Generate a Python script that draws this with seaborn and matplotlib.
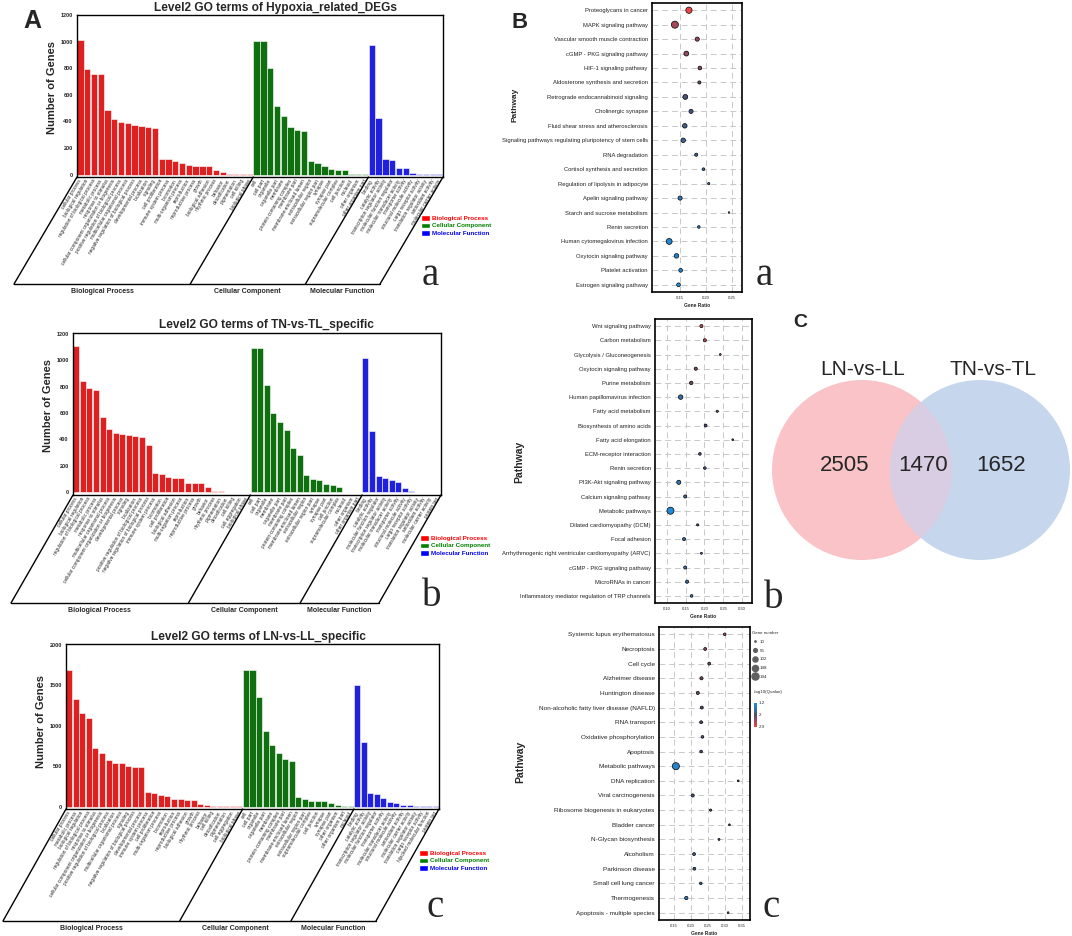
import numpy as np
import pandas as pd
import matplotlib
matplotlib.use("Agg")
import matplotlib.pyplot as plt
import seaborn as sns
from matplotlib.lines import Line2D
from matplotlib.patches import Patch, Circle
from matplotlib.colors import LinearSegmentedColormap, Normalize
from matplotlib.cm import ScalarMappable

# ---------------- GO level2 counts (panel A) ----------------
bp_a = ["cellular process", "biological regulation", "regulation of biological process", "metabolic process",
        "response to stimulus", "cellular component organization or biogenesis",
        "positive regulation of biological process", "multicellular organismal process",
        "negative regulation of biological process", "developmental process", "localization", "signaling",
        "cell proliferation", "immune system process", "locomotion", "multi-organism process", "reproduction",
        "reproductive process", "growth", "biological adhesion", "rhythmic process", "behavior",
        "detoxification", "pigmentation", "cell killing", "biological phase"]
bp_a_n = [1015, 795, 758, 758, 485, 417, 399, 389, 371, 364, 361, 354, 119, 114, 106, 88, 71, 68, 68, 63,
          35, 18, 6, 5, 4, 2]
cc_a = ["cell", "cell part", "organelle", "organelle part", "membrane", "protein-containing complex",
        "membrane part", "membrane-enclosed lumen", "extracellular region", "extracellular region part",
        "synapse", "synapse part", "supramolecular complex", "cell junction", "nucleoid", "other organism",
        "other organism part"]
cc_a_n = [1005, 1002, 803, 518, 442, 359, 333, 326, 106, 91, 63, 43, 35, 35, 3, 2, 1]
mf_a = ["binding", "catalytic activity", "transcription regulator activity", "molecular function regulator",
        "molecular transducer activity", "transporter activity", "structural molecule activity",
        "cargo receptor activity", "translation regulator activity", "antioxidant activity",
        "molecular carrier activity"]
mf_a_n = [972, 422, 119, 111, 51, 51, 13, 5, 3, 3, 1]

bp_b = ["cellular process", "biological regulation", "regulation of biological process", "metabolic process",
        "response to stimulus", "multicellular organismal process",
        "cellular component organization or biogenesis", "developmental process", "signaling", "localization",
        "positive regulation of biological process", "negative regulation of biological process",
        "immune system process", "locomotion", "cell proliferation", "biological adhesion",
        "multi-organism process", "reproduction", "reproductive process", "growth", "behavior",
        "rhythmic process", "pigmentation", "detoxification", "cell killing", "cell aggregation",
        "biological phase"]
bp_b_n = [1103, 839, 788, 771, 569, 481, 446, 441, 436, 426, 421, 355, 149, 136, 116, 106, 106, 68, 68, 68,
          40, 10, 8, 5, 5, 3, 2]
cc_b = ["cell", "cell part", "organelle", "membrane", "organelle part", "membrane part",
        "protein-containing complex", "membrane-enclosed lumen", "extracellular region",
        "extracellular region part", "synapse", "synapse part", "cell junction", "supramolecular complex",
        "nucleoid", "other organism", "other organism part"]
cc_b_n = [1091, 1088, 811, 597, 531, 474, 332, 285, 134, 103, 93, 60, 55, 43, 5, 3, 3]
mf_b = ["binding", "catalytic activity", "molecular function regulator", "transcription regulator activity",
        "molecular transducer activity", "transporter activity", "structural molecule activity",
        "cargo receptor activity", "translation regulator activity", "antioxidant activity",
        "molecular carrier activity", "protein tag"]
mf_b_n = [1015, 461, 123, 111, 96, 78, 30, 8, 5, 3, 3, 2]

bp_c = ["cellular process", "metabolic process", "biological regulation", "regulation of biological process",
        "response to stimulus", "cellular component organization or biogenesis",
        "positive regulation of biological process", "localization", "multicellular organismal process",
        "signaling", "negative regulation of biological process", "developmental process",
        "immune system process", "cell proliferation", "multi-organism process", "locomotion", "reproduction",
        "reproductive process", "biological adhesion", "growth", "rhythmic process", "behavior", "cell killing",
        "detoxification", "pigmentation", "cell aggregation", "biological phase"]
bp_c_n = [1689, 1329, 1151, 1089, 720, 667, 571, 542, 534, 497, 493, 493, 182, 166, 141, 128, 99, 99, 83, 83,
          37, 21, 12, 12, 8, 4, 3]
cc_c = ["cell", "cell part", "organelle", "organelle part", "membrane", "protein-containing complex",
        "membrane part", "membrane-enclosed lumen", "extracellular region", "extracellular region part",
        "supramolecular complex", "cell junction", "synapse", "synapse part", "other organism",
        "other organism part", "nucleoid"]
cc_c_n = [1689, 1685, 1354, 936, 762, 658, 584, 559, 116, 99, 75, 70, 66, 50, 17, 4, 3]
mf_c = ["binding", "catalytic activity", "transcription regulator activity", "molecular function regulator",
        "transporter activity", "molecular transducer activity", "structural molecule activity",
        "antioxidant activity", "molecular carrier activity", "translation regulator activity",
        "cargo receptor activity", "hijacked molecular function", "protein tag"]
mf_c_n = [1499, 795, 166, 157, 104, 58, 46, 17, 17, 12, 12, 4, 3]

go_cats = ["Biological Process", "Cellular Component", "Molecular Function"]
go_colors = ["#FF0000", "#008000", "#0000FF"]

# ---------------- KEGG enrichment (panel B) ----------------
kegg_a = ["Proteoglycans in cancer", "MAPK signaling pathway", "Vascular smooth muscle contraction",
          "cGMP - PKG signaling pathway", "HIF-1 signaling pathway", "Aldosterone synthesis and secretion",
          "Retrograde endocannabinoid signaling", "Cholinergic synapse", "Fluid shear stress and atherosclerosis",
          "Signaling pathways regulating pluripotency of stem cells", "RNA degradation",
          "Cortisol synthesis and secretion", "Regulation of lipolysis in adipocyte", "Apelin signaling pathway",
          "Starch and sucrose metabolism", "Renin secretion", "Human cytomegalovirus infection",
          "Oxytocin signaling pathway", "Platelet activation", "Estrogen signaling pathway"]
ratio_a = [0.167, 0.140, 0.183, 0.162, 0.188, 0.187, 0.160, 0.171, 0.159, 0.156, 0.181, 0.195, 0.205, 0.150,
           0.244, 0.186, 0.129, 0.143, 0.151, 0.147]
genes_a = [152, 194, 68, 94, 55, 40, 94, 68, 80, 80, 40, 30, 22, 68, 12, 30, 135, 80, 55, 55]
q_a = [2.9, 2.5, 2.45, 2.4, 2.3, 2.2, 2.0, 1.9, 1.8, 1.75, 1.7, 1.65, 1.6, 1.5, 1.5, 1.45, 1.3, 1.3, 1.25, 1.2]

kegg_b = ["Wnt signaling pathway", "Carbon metabolism", "Glycolysis / Gluconeogenesis",
          "Oxytocin signaling pathway", "Purine metabolism", "Human papillomavirus infection",
          "Fatty acid metabolism", "Biosynthesis of amino acids", "Fatty acid elongation",
          "ECM-receptor interaction", "Renin secretion", "PI3K-Akt signaling pathway",
          "Calcium signaling pathway", "Metabolic pathways", "Dilated cardiomyopathy (DCM)", "Focal adhesion",
          "Arrhythmogenic right ventricular cardiomyopathy (ARVC)", "cGMP - PKG signaling pathway",
          "MicroRNAs in cancer", "Inflammatory mediator regulation of TRP channels"]
ratio_b = [0.192, 0.201, 0.242, 0.177, 0.165, 0.137, 0.234, 0.203, 0.275, 0.188, 0.201, 0.132, 0.149, 0.110,
           0.182, 0.146, 0.192, 0.149, 0.154, 0.166]
genes_b = [40, 40, 15, 40, 48, 80, 20, 35, 15, 30, 30, 68, 40, 194, 22, 40, 18, 40, 40, 30]
q_b = [2.7, 2.6, 2.5, 2.3, 2.2, 1.6, 2.0, 2.0, 1.9, 1.9, 1.9, 1.5, 1.7, 1.25, 1.8, 1.6, 1.7, 1.6, 1.6, 1.5]

kegg_c = ["Systemic lupus erythematosus", "Necroptosis", "Cell cycle", "Alzheimer disease",
          "Huntington disease", "Non-alcoholic fatty liver disease (NAFLD)", "RNA transport",
          "Oxidative phosphorylation", "Apoptosis", "Metabolic pathways", "DNA replication",
          "Viral carcinogenesis", "Ribosome biogenesis in eukaryotes", "Bladder cancer", "N-Glycan biosynthesis",
          "Alcoholism", "Parkinson disease", "Small cell lung cancer", "Thermogenesis",
          "Apoptosis - multiple species"]
ratio_c = [0.300, 0.242, 0.254, 0.231, 0.220, 0.232, 0.230, 0.234, 0.230, 0.155, 0.340, 0.205, 0.258, 0.314,
           0.283, 0.209, 0.210, 0.229, 0.186, 0.310]
genes_c = [30, 35, 35, 40, 40, 35, 35, 30, 30, 194, 15, 40, 22, 15, 18, 35, 35, 28, 45, 15]
q_c = [2.6, 2.4, 2.3, 2.2, 2.2, 2.1, 2.1, 2.0, 2.0, 1.35, 2.0, 1.9, 1.9, 1.9, 1.8, 1.8, 1.8, 1.7, 1.5, 1.7]

size_legend = [10, 56, 102, 148, 194]
q_ticks = [1.2, 2, 2.9]

# ---------------- Venn (panel C) ----------------
venn_sets = ["LN-vs-LL", "TN-vs-TL"]
venn_counts = [2505, 1470, 1652]

# ---------------- figure ----------------
W, H = 1072, 936
sns.set_style("white")
plt.rcParams["font.family"] = ["Liberation Sans", "DejaVu Sans"]
fig = plt.figure(figsize=(W / 100, H / 100), dpi=100)


def frect(x0, y0, x1, y1):
    return [x0 / W, 1 - y1 / H, (x1 - x0) / W, (y1 - y0) / H]


def fxy(x, y):
    return x / W, 1 - y / H


def go_panel(box, groups, ylim, yticks, title, title_xy, ylab_xy, shift, leg_xy, letter, letter_xy):
    ax = fig.add_axes(frect(*box))
    rows = []
    for cat, (terms, counts) in zip(go_cats, groups):
        for t, n in zip(terms, counts):
            rows.append((t, n, cat))
    df = pd.DataFrame(rows, columns=["term", "n", "cat"])
    sns.barplot(data=df, x="term", y="n", hue="cat", order=list(df.term), hue_order=go_cats,
                palette=go_colors, dodge=False, width=0.92, edgecolor="white", linewidth=0.4,
                errorbar=None, legend=False, ax=ax)
    ntot = len(df)
    ax.set_xlim(-0.5, ntot - 0.5)
    ax.set_ylim(*ylim)
    ax.set_yticks(yticks)
    ax.set_yticklabels([str(v) for v in yticks], fontsize=4, fontweight="bold")
    ax.set_xticks(range(ntot))
    ax.set_xticklabels(df.term, rotation=59, ha="right", va="center", rotation_mode="anchor", fontsize=3.4)
    ax.tick_params(axis="x", length=0, pad=2)
    ax.tick_params(axis="y", length=2, width=0.6, pad=1)
    ax.set_xlabel("")
    ax.set_ylabel("")
    for s in ax.spines.values():
        s.set_color("black")
        s.set_linewidth(1.0)
    fig.text(*fxy(*title_xy), title, ha="center", va="center", fontsize=8.6, fontweight="bold")
    fig.text(*fxy(*ylab_xy), "Number of Genes", rotation=90, ha="center", va="center",
             fontsize=8, fontweight="bold")

    # slanted frame holding the category names
    dx, dy = shift
    bounds = [-0.5]
    k = 0
    for terms, _ in groups:
        k += len(terms)
        bounds.append(k - 0.5)
    ybot = ax.transAxes.transform((0, 0))[1]
    inv = fig.transFigure.inverted()
    xs = [ax.transData.transform((b, 0))[0] for b in bounds]
    for xd in xs:
        p = inv.transform([(xd, ybot), (xd + dx, ybot - dy)])
        fig.add_artist(Line2D(p[:, 0], p[:, 1], color="black", lw=1.0, transform=fig.transFigure))
    p = inv.transform([(xs[0] + dx, ybot - dy), (xs[-1] + dx, ybot - dy)])
    fig.add_artist(Line2D(p[:, 0], p[:, 1], color="black", lw=1.0, transform=fig.transFigure))
    for cat, xa, xb in zip(go_cats, xs[:-1], xs[1:]):
        q = inv.transform(((xa + xb) / 2 + dx, ybot - dy - 4))
        fig.text(q[0], q[1], cat, ha="center", va="top", fontsize=5, fontweight="bold")

    handles = [Patch(facecolor=c) for c in go_colors]
    fig.legend(handles, go_cats, loc="upper left", bbox_to_anchor=fxy(*leg_xy), frameon=False,
               prop={"size": 4.5, "weight": "bold"}, labelcolor=go_colors, handlelength=1.5,
               handleheight=1.0, handletextpad=0.2, labelspacing=0.25, borderpad=0, borderaxespad=0)
    fig.text(*fxy(*letter_xy), letter, ha="center", va="baseline", fontsize=28,
             family=["Liberation Serif", "DejaVu Serif"])
    return ax


go_panel((77, 15, 443, 177), [(bp_a, bp_a_n), (cc_a, cc_a_n), (mf_a, mf_a_n)], (-18, 1200),
         [0, 200, 400, 600, 800, 1000, 1200], "Level2 GO terms of Hypoxia_related_DEGs", (275, 8), (52, 88),
         (-63, 107), (421, 215), "a", (430, 285))
go_panel((73, 333, 441, 495), [(bp_b, bp_b_n), (cc_b, cc_b_n), (mf_b, mf_b_n)], (-20, 1205),
         [0, 200, 400, 600, 800, 1000, 1200], "Level2 GO terms of TN-vs-TL_specific", (266, 325), (48, 405),
         (-62, 108), (420, 535), "b", (432, 606))
go_panel((66, 644, 439, 809), [(bp_c, bp_c_n), (cc_c, cc_c_n), (mf_c, mf_c_n)], (-30, 2010),
         [0, 500, 1000, 1500, 2000], "Level2 GO terms of LN-vs-LL_specific", (258, 637), (41, 722),
         (-63, 112), (419, 850), "c", (435, 917))

# ---------------- KEGG bubble panels ----------------
qcmap = LinearSegmentedColormap.from_list("q", ["#1E8FE0", "#4E4E6E", "#F04545"])
qnorm = Normalize(1.2, 2.9)
SIZES = (1, 26)


def size_of(n):
    return SIZES[0] + (SIZES[1] - SIZES[0]) * (n - 10) / (194 - 10)


def kegg_panel(box, paths, ratio, genes, q, xlim, xticks, ysize, ylab_xy, ylab_size, letter, letter_xy):
    ax = fig.add_axes(frect(*box))
    df = pd.DataFrame({"path": paths, "ratio": ratio, "genes": genes, "q": q})
    ax.grid(True, ls=(0, (6, 4)), color="#c8c8c8", lw=0.7)
    ax.set_axisbelow(True)
    sns.scatterplot(data=df, x="ratio", y="path", size="genes", sizes=SIZES, size_norm=(10, 194),
                    hue="q", hue_norm=qnorm, palette=qcmap, edgecolor="black", linewidth=0.5,
                    legend=False, ax=ax, zorder=3)
    ax.set_ylim(len(paths) - 0.5, -0.5)
    ax.set_xlim(*xlim)
    ax.set_xticks(xticks)
    ax.set_xticklabels(["%.2f" % v for v in xticks], fontsize=3)
    ax.tick_params(axis="y", labelsize=ysize, length=1.5, width=0.5, pad=1.5, labelcolor="#222222")
    ax.tick_params(axis="x", length=1.5, width=0.5, pad=1.5)
    ax.set_ylabel("")
    ax.set_xlabel("Gene Ratio", fontsize=3.5, fontweight="bold", labelpad=2)
    for s in ax.spines.values():
        s.set_color("black")
        s.set_linewidth(1.2)
    fig.text(*fxy(*ylab_xy), "Pathway", rotation=90, ha="center", va="center", fontsize=ylab_size,
             fontweight="bold")
    fig.text(*fxy(*letter_xy), letter, ha="center", va="baseline", fontsize=28,
             family=["Liberation Serif", "DejaVu Serif"])
    return ax


kegg_panel((652, 3, 742, 292), kegg_a, ratio_a, genes_a, q_a, (0.096, 0.269), [0.15, 0.20, 0.25], 4.2,
           (515, 105), 6, "a", (764, 285))
kegg_panel((655, 319, 752, 603), kegg_b, ratio_b, genes_b, q_b, (0.069, 0.326),
           [0.10, 0.15, 0.20, 0.25, 0.30], 4.2, (519, 462), 7.5, "b", (774, 608))
kegg_panel((659, 627, 750, 920), kegg_c, ratio_c, genes_c, q_c, (0.105, 0.375),
           [0.15, 0.20, 0.25, 0.30, 0.35], 4.6, (520, 762), 7.5, "c", (771, 917))

# size legend
handles = [Line2D([], [], ls="", marker="o", markersize=np.sqrt(size_of(n)), color="#606060") for n in size_legend]
fig.legend(handles, [str(n) for n in size_legend], title="Gene number", loc="upper left",
           bbox_to_anchor=fxy(752, 631), frameon=False, fontsize=3.2, title_fontsize=3.2,
           handlelength=1.2, handletextpad=0.6, labelspacing=1.05, borderpad=0, borderaxespad=0,
           alignment="left")
# colour bar
fig.text(*fxy(754, 692), "-log10(Qvalue)", fontsize=3.2, ha="left", va="center")
cax = fig.add_axes(frect(754, 703, 757, 727))
cb = fig.colorbar(ScalarMappable(norm=qnorm, cmap=qcmap), cax=cax)
cax.invert_yaxis()
cb.set_ticks(q_ticks)
cb.set_ticklabels(["1.2", "2", "2.9"])
cb.outline.set_visible(False)
cax.tick_params(labelsize=3.2, length=0, pad=1)

# ---------------- Venn ----------------
vax = fig.add_axes(frect(760, 340, 1072, 600))
vax.set_xlim(760, 1072)
vax.set_ylim(600, 340)
vax.axis("off")
left = Circle((862, 470), 90, facecolor="#F9C3C8", edgecolor="none")
right = Circle((980, 470), 90, facecolor="#C6D7ED", edgecolor="none")
vax.add_patch(left)
vax.add_patch(right)
lens = Circle((862, 470), 90, facecolor="#D9CDE3", edgecolor="none")
vax.add_patch(lens)
lens.set_clip_path(right)
vax.text(863, 370, venn_sets[0], ha="center", va="center", fontsize=15)
vax.text(993, 370, venn_sets[1], ha="center", va="center", fontsize=15)
for x, n in zip([845, 923, 1001], venn_counts):
    vax.text(x, 466, str(n), ha="center", va="center", fontsize=16)

# panel letters
fig.text(*fxy(32, 28), "A", ha="center", va="baseline", fontsize=18, fontweight="bold")
fig.text(*fxy(520, 28), "B", ha="center", va="baseline", fontsize=16, fontweight="bold")
fig.text(*fxy(800, 327), "C", ha="center", va="baseline", fontsize=14, fontweight="bold")

fig.savefig("out.png", dpi=100, facecolor="white")
